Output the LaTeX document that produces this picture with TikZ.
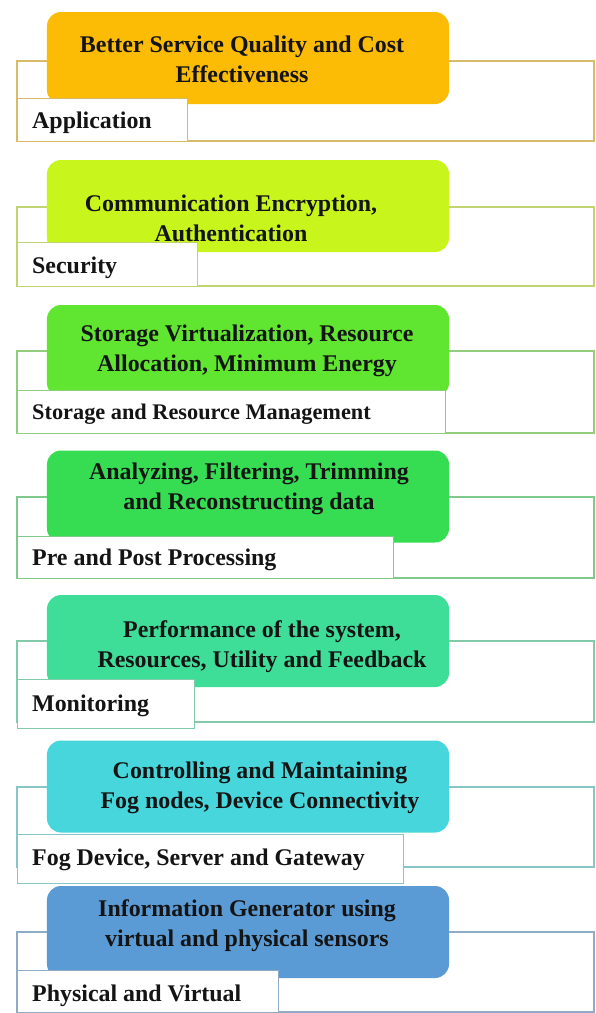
\documentclass[tikz,border=0pt]{standalone}
\usepackage{fontspec}
\setmainfont{Liberation Serif}
\definecolor{cA}{HTML}{FCBC05}
\definecolor{cB}{HTML}{C8F51C}
\definecolor{cC}{HTML}{60E530}
\definecolor{cD}{HTML}{36DC52}
\definecolor{cE}{HTML}{3FDE98}
\definecolor{cF}{HTML}{47D6DB}
\definecolor{cG}{HTML}{5B9BD5}
\definecolor{ink}{HTML}{141414}
\tikzset{
  frame/.style={draw=#1!75!black!60!white, line width=1.4bp, fill=white},
  cbox/.style={fill=#1, draw=none, rounded corners=14bp, minimum width=402bp, minimum height=92bp, inner sep=0pt},
  lbox/.style={draw=#1!75!black!60!white, line width=1.4bp, fill=white, anchor=north west, inner sep=0pt},
  toptext/.style={font=\bfseries\fontsize{24}{30}\selectfont, text=ink, align=center, inner sep=0pt},
  labtext/.style={font=\bfseries\fontsize{24}{30}\selectfont, text=ink, anchor=base west, inner sep=0pt}
}
\begin{document}
\begin{tikzpicture}[x=1bp,y=-1bp]
\useasboundingbox[fill=white] (0,0) rectangle (596,1013);
% Layer 1
\draw[frame=cA] (17,61) rectangle (594,141);
\node[cbox=cA] (b1) at (248,58) {};
\node[lbox=cA, minimum width=170bp, minimum height=43bp] (l1) at (17,98) {};
\node[toptext] (t1) at (242,59) {Better Service Quality and Cost\\Effectiveness};
\node[labtext] (lt1) at (32,128) {Application};
% Layer 2
\draw[frame=cB] (17,207) rectangle (594,286);
\node[cbox=cB] (b2) at (248,206) {};
\node[lbox=cB, minimum width=180bp, minimum height=44bp] (l2) at (17,242) {};
\node[toptext] (t2) at (231,218) {Communication Encryption,\\Authentication};
\node[labtext] (lt2) at (32,273) {Security};
% Layer 3
\draw[frame=cC] (17,351) rectangle (594,433);
\node[cbox=cC] (b3) at (248,351) {};
\node[lbox=cC, minimum width=428bp, minimum height=43bp] (l3) at (17,390) {};
\node[toptext] (t3) at (247,351) {Storage Virtualization, Resource\\Allocation, Minimum Energy};
\node[labtext, font=\bfseries\fontsize{22.4}{28}\selectfont] (lt3) at (32,419) {Storage and Resource Management};
% Layer 4
\draw[frame=cD] (17,497) rectangle (594,578);
\node[cbox=cD] (b4) at (248,496.5) {};
\node[lbox=cD, minimum width=376bp, minimum height=42bp] (l4) at (17,536) {};
\node[toptext] (t4) at (249,489) {Analyzing, Filtering, Trimming\\and Reconstructing data};
\node[labtext] (lt4) at (32,565) {Pre and Post Processing};
% Layer 5
\draw[frame=cE] (17,641) rectangle (594,722);
\node[cbox=cE] (b5) at (248,641) {};
\node[lbox=cE, minimum width=177bp, minimum height=49bp] (l5) at (17,679) {};
\node[toptext] (t5) at (262,647) {Performance of the system,\\Resources, Utility and Feedback};
\node[labtext] (lt5) at (32,711) {Monitoring};
% Layer 6
\draw[frame=cF] (17,787) rectangle (594,867);
\node[cbox=cF] (b6) at (248,786.5) {};
\node[lbox=cF, minimum width=386bp, minimum height=49bp] (l6) at (17,834) {};
\node[toptext] (t6) at (260,788) {Controlling and Maintaining\\Fog nodes, Device Connectivity};
\node[labtext] (lt6) at (32,865) {Fog Device, Server and Gateway};
% Layer 7
\draw[frame=cG] (17,932) rectangle (594,1012);
\node[cbox=cG] (b7) at (248,932) {};
\node[lbox=cG, minimum width=261bp, minimum height=42bp] (l7) at (17,970) {};
\node[toptext] (t7) at (247,926) {Information Generator using\\virtual and physical sensors};
\node[labtext] (lt7) at (32,1001) {Physical and Virtual};
\end{tikzpicture}
\end{document}
